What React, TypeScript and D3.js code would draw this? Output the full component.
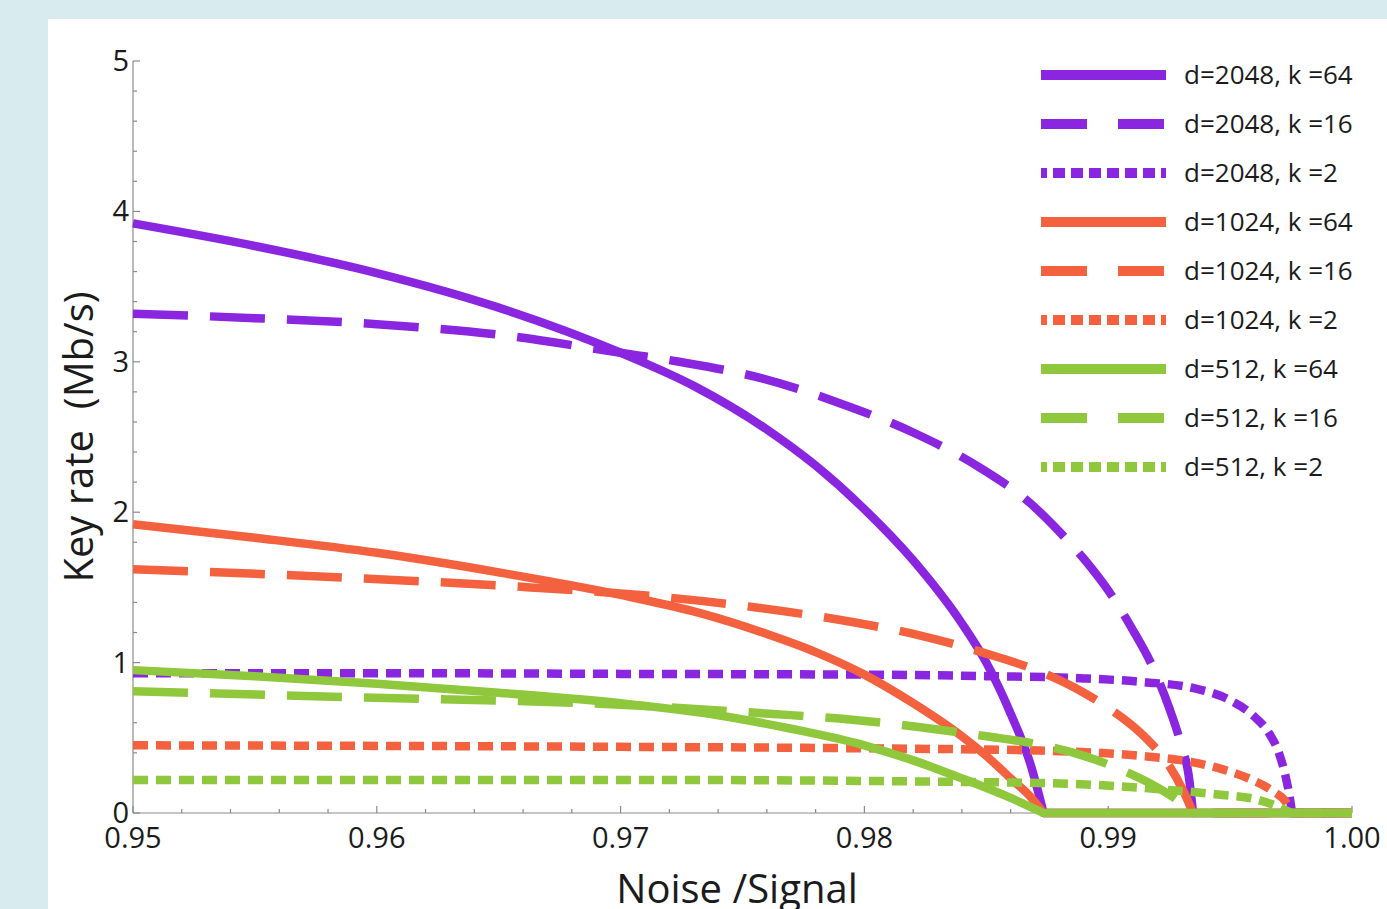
import React from "react";
import * as d3 from "d3";

// Noise/Signal vs key rate (Mb/s)
const d2048k64 = [
  [0.95, 3.92], [0.955, 3.77], [0.96, 3.59], [0.965, 3.36], [0.97, 3.06], [0.973, 2.84],
  [0.976, 2.55], [0.978, 2.31], [0.98, 2.02], [0.982, 1.68], [0.984, 1.26], [0.985, 1.0],
  [0.986, 0.66], [0.9868, 0.33], [0.98735, 0],
];
const d2048k16 = [
  [0.95, 3.32], [0.955, 3.29], [0.96, 3.25], [0.965, 3.18], [0.97, 3.06], [0.9724, 3.0],
  [0.9758, 2.89], [0.9789, 2.73], [0.982, 2.53], [0.9847, 2.3], [0.9868, 2.06], [0.988, 1.87],
  [0.989, 1.69], [0.99, 1.48], [0.991, 1.22], [0.9918, 0.98], [0.9925, 0.7], [0.993, 0.45],
  [0.9933, 0.25], [0.99348, 0],
];
const d2048k2 = [
  [0.95, 0.93], [0.96, 0.93], [0.97, 0.925], [0.98, 0.92], [0.985, 0.91], [0.989, 0.895],
  [0.9915, 0.87], [0.9935, 0.83], [0.995, 0.75], [0.996, 0.64], [0.9966, 0.53], [0.997, 0.4],
  [0.99728, 0.24], [0.99745, 0.1], [0.99754, 0],
];
const d1024k64 = [
  [0.95, 1.92], [0.955, 1.83], [0.96, 1.73], [0.965, 1.6], [0.97, 1.45], [0.973, 1.34],
  [0.976, 1.19], [0.978, 1.07], [0.98, 0.92], [0.982, 0.73], [0.984, 0.51], [0.985, 0.38],
  [0.986, 0.23], [0.9868, 0.11], [0.98735, 0],
];
const d1024k16 = [
  [0.95, 1.62], [0.9594, 1.56], [0.9663, 1.5], [0.97, 1.46], [0.9754, 1.37], [0.9795, 1.27],
  [0.9823, 1.18], [0.985, 1.06], [0.9872, 0.94], [0.989, 0.8], [0.99, 0.7], [0.9916, 0.49],
  [0.9924, 0.34], [0.9931, 0.14], [0.99348, 0],
];
const d1024k2 = [
  [0.95, 0.45], [0.97, 0.44], [0.98, 0.43], [0.9872, 0.415], [0.9913, 0.38], [0.9934, 0.34],
  [0.9947, 0.29], [0.9959, 0.22], [0.9968, 0.14], [0.9973, 0.07], [0.99752, 0],
];
const d512k64 = [
  [0.95, 0.95], [0.955, 0.91], [0.96, 0.86], [0.965, 0.8], [0.97, 0.73], [0.974, 0.65],
  [0.977, 0.56], [0.98, 0.45], [0.982, 0.35], [0.984, 0.23], [0.986, 0.1], [0.98735, 0],
];
const d512k16 = [
  [0.95, 0.81], [0.959, 0.77], [0.97, 0.72], [0.9761, 0.66], [0.9795, 0.62], [0.9823, 0.57],
  [0.985, 0.51], [0.987, 0.46], [0.989, 0.38], [0.9905, 0.29], [0.9918, 0.19],
  [0.9928, 0.09], [0.99348, 0],
];
const d512k2 = [
  [0.95, 0.22], [0.97, 0.22], [0.9872, 0.2], [0.9927, 0.15], [0.9947, 0.12], [0.9961, 0.09],
  [0.997, 0.04], [0.99752, 0],
];

const labels = [
  "d=2048, k =64", "d=2048, k =16", "d=2048, k =2",
  "d=1024, k =64", "d=1024, k =16", "d=1024, k =2",
  "d=512, k =64", "d=512, k =16", "d=512, k =2",
];
const seriesData = [d2048k64, d2048k16, d2048k2, d1024k64, d1024k16, d1024k2, d512k64, d512k16, d512k2];

const xTicks = [0.95, 0.96, 0.97, 0.98, 0.99, 1.0];
const yTicks = [0, 1, 2, 3, 4, 5];

const PURPLE = "#8a26e0";
const ORANGE = "#f4613f";
const GREEN = "#8fc83c";
const colors = [PURPLE, ORANGE, GREEN];
const plotDash = ["none", "55 22", "15 8"];
const legendDash = ["none", "46 31", "12 6"];

const W = 1387;
const H = 909;
const FONT = "'Open Sans', sans-serif";

export default function App() {
  const x = d3.scaleLinear().domain([0.95, 1.0]).range([133, 1352]);
  const y = d3.scaleLinear().domain([0, 5]).range([813, 61]);

  const line = d3
    .line<number[]>()
    .x((d) => x(d[0]))
    .y((d) => y(d[1]))
    .curve(d3.curveMonotoneX);

  // curve down to zero, then flat along the axis to 1.00
  const pathFor = (pts: number[][]) => line(pts) + `L${x(1.0)},${y(0)}`;

  const xMinor = d3.range(0.95, 1.0001, 0.002);
  const yMinor = d3.range(0, 5.0001, 0.2);

  return (
    <svg
      width={W}
      height={H}
      style={{ position: "absolute", left: 0, top: 0, display: "block" }}
      fontFamily={FONT}
    >
      <rect width={W} height={H} fill="#d8ebee" />
      <rect x={48} y={19} width={W - 48} height={H - 19} fill="#ffffff" />

      {/* axes */}
      <g stroke="#8a8a8a" strokeWidth={1.2}>
        <line x1={x(0.95)} x2={x(1.0)} y1={y(0)} y2={y(0)} />
        <line x1={x(0.95)} x2={x(0.95)} y1={y(0)} y2={y(5)} />
        {xMinor.map((v, i) => (
          <line key={"xm" + i} x1={x(v)} x2={x(v)} y1={y(0)} y2={y(0) - (i % 5 === 0 ? 7 : 4)} />
        ))}
        {yMinor.map((v, i) => (
          <line key={"ym" + i} x1={x(0.95)} x2={x(0.95) + (i % 5 === 0 ? 7 : 4)} y1={y(v)} y2={y(v)} />
        ))}
      </g>
      <g fill="#1b1b1b" fontSize={29}>
        {xTicks.map((v) => (
          <text key={"xt" + v} x={x(v)} y={y(0) + 35} textAnchor="middle">
            {v.toFixed(2)}
          </text>
        ))}
        {yTicks.map((v) => (
          <text key={"yt" + v} x={x(0.95) - 4} y={y(v) + 10} textAnchor="end">
            {v}
          </text>
        ))}
      </g>

      {/* series */}
      <g fill="none" strokeLinecap="butt" strokeLinejoin="round">
        {seriesData.map((pts, i) => (
          <path
            key={"s" + i}
            d={pathFor(pts)}
            stroke={colors[Math.floor(i / 3)]}
            strokeWidth={8.5}
            strokeDasharray={plotDash[i % 3]}
          />
        ))}
      </g>

      {/* legend */}
      <g>
        {labels.map((lab, i) => {
          const ly = 75 + i * 49;
          return (
            <g key={"lg" + i}>
              <line
                x1={1041}
                x2={1166}
                y1={ly}
                y2={ly}
                stroke={colors[Math.floor(i / 3)]}
                strokeWidth={10}
                strokeDasharray={legendDash[i % 3]}
                strokeDashoffset={i % 3 === 2 ? 6 : 0}
              />
              <text x={1184} y={ly + 9} fontSize={26} fill="#1b1b1b">
                {lab}
              </text>
            </g>
          );
        })}
      </g>

      {/* axis titles */}
      <text x={737} y={903} textAnchor="middle" fontSize={40} fill="#1b1b1b">
        Noise /Signal
      </text>
      <text
        transform="translate(93,437) rotate(-90)"
        textAnchor="middle"
        fontSize={40}
        fill="#1b1b1b"
        style={{ whiteSpace: "pre" }}
      >
        {"Key rate  (Mb/s)"}
      </text>
    </svg>
  );
}
